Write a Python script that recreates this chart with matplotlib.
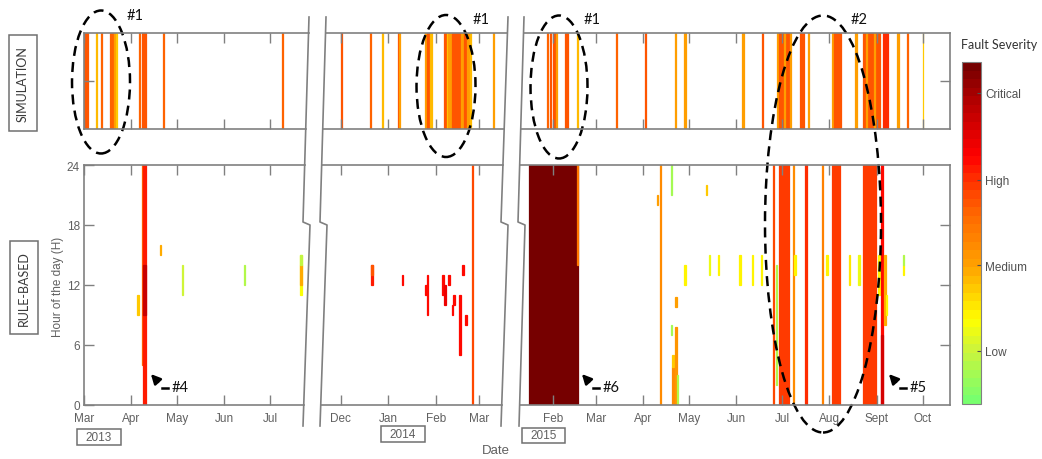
import numpy as np
import matplotlib
matplotlib.use('Agg')
import matplotlib.pyplot as plt
import matplotlib.dates as mdates
from matplotlib.colors import LinearSegmentedColormap, Normalize
from matplotlib.patches import Ellipse, Rectangle, FancyArrowPatch
from matplotlib.lines import Line2D
from matplotlib.cm import ScalarMappable

plt.rcParams['font.family'] = ['Liberation Sans', 'DejaVu Sans']

# ---- severity scale (0 = lowest, 1 = critical)
sev_stops = [0.0, 0.15, 0.24, 0.40, 0.55, 0.66, 0.73, 0.90, 1.0]
sev_colors = ['#78ff6e', '#cdf53a', '#ffff00', '#ffa200', '#ff6a00',
              '#ff3000', '#ff0000', '#b00000', '#760000']
sev_ticks = [0.155, 0.405, 0.655, 0.91]
sev_labels = ['Low', 'Medium', 'High', 'Critical']

# ---- date ranges and month ticks of the three broken segments
years = ['2013', '2014', '2015']
x_ranges = [('2013-03-01', '2013-07-24'),
            ('2013-11-19', '2014-03-17'),
            ('2015-01-11', '2015-10-19')]
month_ticks = [['2013-03-01', '2013-04-01', '2013-05-01', '2013-06-01', '2013-07-01'],
               ['2013-12-01', '2014-01-01', '2014-02-01', '2014-03-01'],
               ['2015-02-01', '2015-03-01', '2015-04-01', '2015-05-01', '2015-06-01',
                '2015-07-01', '2015-08-01', '2015-09-01', '2015-10-01']]
month_labels = [['Mar', 'Apr', 'May', 'Jun', 'Jul'],
                ['Dec', 'Jan', 'Feb', 'Mar'],
                ['Feb', 'Mar', 'Apr', 'May', 'Jun', 'Jul', 'Aug', 'Sept', 'Oct']]
hour_ticks = [0, 6, 12, 18, 24]

# ---- simulation faults: (start day, length in days, severity)
sim_2013 = [('2013-03-01', 2.5, 0.58), ('2013-03-09', 0.8, 0.35), ('2013-03-12', 0.8, 0.56),
            ('2013-03-18', 3.0, 0.57), ('2013-03-21', 1.0, 0.42), ('2013-03-22', 0.8, 0.33),
            ('2013-04-06', 0.8, 0.56), ('2013-04-08', 2.5, 0.58), ('2013-04-22', 0.8, 0.56),
            ('2013-07-09', 0.8, 0.56)]
sim_2014 = [('2013-12-01', 0.8, 0.58), ('2013-12-20', 0.6, 0.56), ('2013-12-28', 0.7, 0.35),
            ('2014-01-07', 1.0, 0.58), ('2014-01-08', 0.8, 0.42), ('2014-01-25', 1.0, 0.40),
            ('2014-01-26', 2.5, 0.58), ('2014-01-28', 1.5, 0.37), ('2014-02-06', 1.5, 0.58),
            ('2014-02-08', 1.5, 0.34), ('2014-02-09', 1.5, 0.42), ('2014-02-11', 6.5, 0.58),
            ('2014-02-17', 1.5, 0.40), ('2014-02-19', 1.5, 0.58), ('2014-02-21', 1.0, 0.40),
            ('2014-02-23', 0.8, 0.35), ('2014-03-10', 0.8, 0.40)]
sim_2015 = [('2015-01-28', 0.6, 0.56), ('2015-01-30', 0.7, 0.58), ('2015-02-01', 0.7, 0.58),
            ('2015-02-02', 1.0, 0.58), ('2015-02-03', 0.8, 0.40), ('2015-02-09', 2.0, 0.58),
            ('2015-02-17', 0.6, 0.35), ('2015-03-14', 0.7, 0.56), ('2015-04-02', 0.8, 0.58),
            ('2015-04-22', 0.8, 0.40), ('2015-04-28', 0.8, 0.40), ('2015-06-05', 0.8, 0.40),
            ('2015-06-18', 0.8, 0.58), ('2015-06-28', 1.2, 0.40), ('2015-06-29', 6.5, 0.58),
            ('2015-07-02', 0.6, 0.42), ('2015-07-06', 0.8, 0.40), ('2015-07-13', 2.5, 0.58),
            ('2015-07-18', 0.8, 0.40), ('2015-08-03', 1.0, 0.42), ('2015-08-04', 4.5, 0.58),
            ('2015-08-18', 0.8, 0.40), ('2015-08-23', 11.0, 0.58), ('2015-08-25', 0.7, 0.42),
            ('2015-08-30', 0.7, 0.40), ('2015-09-05', 3.5, 0.67), ('2015-09-14', 1.5, 0.40),
            ('2015-09-21', 0.6, 0.56), ('2015-10-01', 0.6, 0.34)]

# ---- rule-based faults: (day, length in days, from hour, to hour, severity)
rule_2013 = [('2013-04-05', 0.8, 9, 11, 0.33), ('2013-04-08', 1.2, 4, 24, 0.55),
             ('2013-04-09', 2.0, 0, 24, 0.69), ('2013-04-09', 1.5, 9, 14, 0.84),
             ('2013-04-20', 0.8, 15, 16, 0.38), ('2013-05-04', 0.8, 11, 14, 0.16),
             ('2013-06-14', 0.8, 12, 14, 0.10), ('2013-07-21', 0.8, 11, 15, 0.24),
             ('2013-07-21', 0.8, 12, 14, 0.38), ('2013-07-21', 0.8, 14, 15, 0.13)]
rule_2014 = [('2013-12-21', 1.2, 12, 14, 0.68), ('2013-12-21', 1.2, 13, 14, 0.58),
             ('2014-01-10', 0.7, 12, 13, 0.70), ('2014-01-26', 0.7, 9, 13, 0.70),
             ('2014-01-25', 1.3, 11, 12, 0.72), ('2014-02-05', 1.3, 11, 13, 0.70),
             ('2014-02-06', 1.2, 10, 12, 0.76), ('2014-02-09', 0.7, 12, 13, 0.70),
             ('2014-02-11', 1.2, 9, 10, 0.70), ('2014-02-12', 1.2, 10, 11, 0.70),
             ('2014-02-16', 1.3, 5, 11, 0.70), ('2014-02-18', 1.2, 13, 14, 0.70),
             ('2014-02-20', 1.0, 8, 9, 0.70), ('2014-02-24', 1.0, 0, 24, 0.60)]
rule_2015 = [('2015-01-16', 32.5, 0, 24, 0.98), ('2015-02-17', 0.6, 14, 24, 0.50),
             ('2015-04-10', 1.0, 20, 21, 0.40), ('2015-04-12', 1.0, 0, 24, 0.46),
             ('2015-04-19', 1.0, 21, 24, 0.08), ('2015-04-19', 1.0, 7, 8, 0.08),
             ('2015-04-20', 1.0, 0, 3.8, 0.47), ('2015-04-20', 1.0, 3.8, 5, 0.34),
             ('2015-04-22', 1.0, 9.8, 10.8, 0.40), ('2015-04-22', 1.0, 0, 7.8, 0.44),
             ('2015-04-23', 0.8, 0, 3, 0.10), ('2015-04-28', 1.0, 12, 14, 0.26),
             ('2015-05-12', 1.0, 21, 22, 0.34), ('2015-05-14', 1.0, 13, 15, 0.22),
             ('2015-05-20', 1.0, 13, 15, 0.26), ('2015-06-03', 1.0, 12, 15, 0.26),
             ('2015-06-11', 1.0, 12, 15, 0.26), ('2015-06-17', 1.0, 12, 15, 0.26),
             ('2015-06-27', 1.0, 2, 14, 0.10), ('2015-06-25', 0.7, 0, 24, 0.60),
             ('2015-06-29', 6.6, 0, 24, 0.64), ('2015-07-08', 0.7, 0, 24, 0.46),
             ('2015-07-09', 1.0, 13, 15, 0.26), ('2015-07-16', 1.3, 0, 24, 0.66),
             ('2015-07-27', 0.8, 0, 24, 0.48), ('2015-07-30', 1.0, 13, 15, 0.26),
             ('2015-08-03', 4.7, 0, 24, 0.64), ('2015-08-14', 0.7, 12, 15, 0.28),
             ('2015-08-20', 1.0, 12, 15, 0.20), ('2015-08-23', 8.5, 0, 24, 0.64),
             ('2015-09-02', 1.0, 11, 15, 0.26), ('2015-09-04', 0.9, 0, 24, 0.72),
             ('2015-09-04', 0.9, 0, 7, 0.82), ('2015-09-06', 1.0, 8, 15, 0.38),
             ('2015-09-07', 0.8, 9, 11, 0.26), ('2015-09-18', 1.0, 13, 14, 0.26),
             ('2015-09-18', 1.0, 14, 15, 0.12)]

sim_data = [sim_2013, sim_2014, sim_2015]
rule_data = [rule_2013, rule_2014, rule_2015]

cmap = LinearSegmentedColormap.from_list('sev', list(zip(sev_stops, sev_colors)), N=40)
norm = Normalize(0, 1)

W, H = 1042, 460
fig = plt.figure(figsize=(W / 100, H / 100), dpi=100)
GREY = '#808080'
TXT = '#606060'


def fx(x):
    return x / W


def fy(y):
    return 1 - y / H


def add_line(xs, ys, **kw):
    fig.add_artist(Line2D([fx(x) for x in xs], [fy(y) for y in ys],
                          transform=fig.transFigure, **kw))


# panel geometry in pixels (left, right) per segment, (top, bottom) per row
seg_x = [(84, 305), (322, 504), (521, 950)]
sim_y = (34, 130)
rule_y = (166, 406)

# broken-axis lines
breaks = [[(309, 18), (303, 223), (310, 226), (303, 427)],
          [(326, 18), (320, 223), (327, 226), (320, 427)],
          [(508, 18), (501, 223), (508, 226), (501, 427)],
          [(524, 18), (518, 223), (525, 226), (519, 427)]]


def break_x(b, y):
    if y <= 224:
        return np.interp(y, [b[0][1], b[1][1]], [b[0][0], b[1][0]])
    return np.interp(y, [b[2][1], b[3][1]], [b[2][0], b[3][0]])


for i in range(3):
    x0, x1 = seg_x[i]
    xl = mdates.datestr2num(list(x_ranges[i]))
    ticks = mdates.datestr2num(month_ticks[i])
    for row, (ytop, ybot) in enumerate([sim_y, rule_y]):
        ax = fig.add_axes([fx(x0), fy(ybot), (x1 - x0) / W, (ybot - ytop) / H])
        ax.set_facecolor('none')
        for s in ax.spines.values():
            s.set_visible(False)
        ax.set_xlim(xl)
        ax.set_xticks(ticks)
        ax.tick_params(axis='both', direction='in', length=7, width=1, color=GREY,
                       top=True, bottom=True, labelcolor=TXT, labelsize=8.5)
        if row == 0:
            ax.set_ylim(0, 1)
            ax.set_xticklabels([])
            for d, w, s in sim_data[i]:
                t = mdates.datestr2num(d)
                c = cmap(norm(s))
                ax.axvspan(t, t + w, fc=c, ec=c, lw=0.9)
            ax.set_yticks([0.5] if i != 1 else [])
            ax.set_yticklabels([])
        else:
            ax.set_ylim(0, 24)
            ax.set_xticklabels(month_labels[i])
            ax.tick_params(axis='x', pad=5)
            rd = rule_data[i]
            cols = [cmap(norm(r[4])) for r in rd]
            ax.bar(mdates.datestr2num([r[0] for r in rd]), [r[3] - r[2] for r in rd],
                   width=[r[1] for r in rd], bottom=[r[2] for r in rd], align='edge',
                   color=cols, edgecolor=cols, lw=0.9)
            if i == 0:
                ax.set_yticks(hour_ticks)
                ax.tick_params(axis='y', pad=3)
            elif i == 2:
                ax.set_yticks(hour_ticks[1:-1])
                ax.set_yticklabels([])
            else:
                ax.set_yticks([])
        if i == 0:
            ax.spines['left'].set_visible(True)
            ax.spines['left'].set_color(GREY)
            ax.spines['left'].set_linewidth(1.2)
            ax.tick_params(axis='y', left=True, right=False)
        if i == 2:
            ax.spines['right'].set_visible(True)
            ax.spines['right'].set_color(GREY)
            ax.spines['right'].set_linewidth(1.2)
            ax.tick_params(axis='y', left=False, right=True)

# horizontal frame lines ending at the break lines
for y in [sim_y[0], sim_y[1], rule_y[0], rule_y[1]]:
    add_line([seg_x[0][0], break_x(breaks[0], y)], [y, y], color=GREY, lw=1.2)
    add_line([break_x(breaks[1], y), break_x(breaks[2], y)], [y, y], color=GREY, lw=1.2)
    add_line([break_x(breaks[3], y), seg_x[2][1]], [y, y], color=GREY, lw=1.2)
for b in breaks:
    add_line([p[0] for p in b], [p[1] for p in b], color=GREY, lw=1.2)

# colour bar
cax = fig.add_axes([fx(962), fy(405), 19 / W, 342 / H])
cb = fig.colorbar(ScalarMappable(norm=norm, cmap=cmap), cax=cax, ticks=sev_ticks)
cb.ax.set_yticklabels(sev_labels)
cb.outline.set_edgecolor(GREY)
cb.ax.tick_params(direction='in', length=3, color='#505050', labelcolor='#505050',
                  labelsize=8.5, pad=3)
fig.text(fx(999), fy(45), 'Fault Severity', ha='center', va='center', fontsize=9,
         color='#333333', family=['Lato', 'DejaVu Sans'])


# boxed labels
def boxed(x0, y0, x1, y1, text, size, rot=0, color='#3a3a3a', family=None):
    fig.add_artist(Rectangle((fx(x0), fy(y1)), (x1 - x0) / W, (y1 - y0) / H,
                             transform=fig.transFigure, fill=False, ec='#707070', lw=1.1))
    kw = {'family': family} if family else {}
    fig.text(fx((x0 + x1) / 2), fy((y0 + y1) / 2), text, ha='center', va='center',
             rotation=rot, fontsize=size, color=color, **kw)


boxed(9, 36, 37, 132, 'SIMULATION', 9, rot=90, family=['Lato', 'DejaVu Sans'])
boxed(10, 242, 38, 335, 'RULE-BASED', 9, rot=90, family=['Lato', 'DejaVu Sans'])
boxed(77, 430, 121, 446, years[0], 8.5, color=TXT)
boxed(381, 427, 425, 443, years[1], 8.5, color=TXT)
boxed(522, 429, 565, 444, years[2], 8.5, color=TXT)

fig.text(fx(58), fy(287), 'Hour of the day (H)', rotation=90, ha='center', va='center',
         fontsize=8.5, color=TXT)
fig.text(fx(496), fy(451), 'Date', ha='center', va='center', fontsize=9.5, color=TXT)

# dashed ellipses
for cx, cy, w, h in [(101, 83, 58, 143), (446, 87, 59, 142),
                     (559, 88, 57, 143), (823, 225, 116, 417)]:
    fig.add_artist(Ellipse((fx(cx), fy(cy)), w / W, h / H, transform=fig.transFigure,
                           fill=False, ec='k', lw=1.8, ls=(0, (4, 2.5))))

note_kw = dict(fontsize=10.5, color='#111111', va='center', ha='left',
               family=['Lato', 'DejaVu Sans'])
for x, y, t in [(127, 16, '#1'), (473, 20, '#1'), (584, 20, '#1'), (851, 20, '#2')]:
    fig.text(fx(x), fy(y), t, **note_kw)

# arrows (#4, #6, #5)
for tipx, t in [(149, '#4'), (580, '#6'), (887, '#5')]:
    fig.add_artist(FancyArrowPatch((fx(tipx + 11), fy(385)), (fx(tipx), fy(373)),
                                   transform=fig.transFigure, arrowstyle='-|>',
                                   mutation_scale=14, lw=1.8, color='k'))
    add_line([tipx + 13, tipx + 19], [388.5, 388.5], color='k', lw=1.8)
    fig.text(fx(tipx + 23), fy(388), t, **note_kw)

fig.savefig('out.png', dpi=100)
